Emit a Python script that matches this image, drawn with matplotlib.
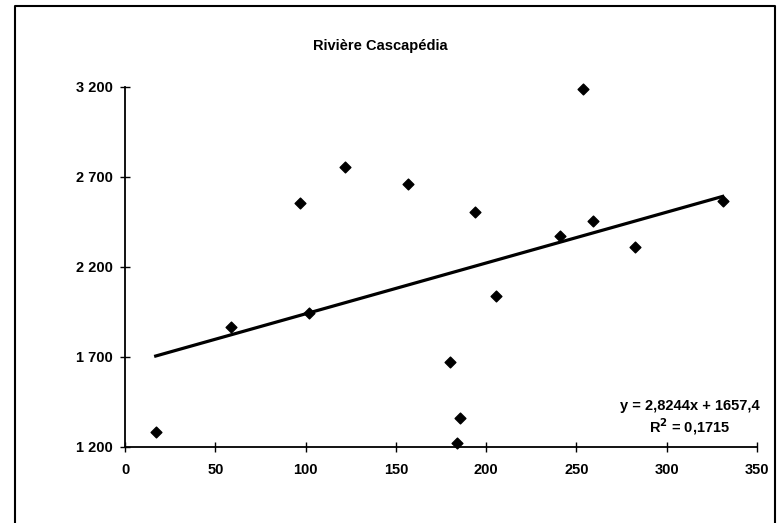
import matplotlib.pyplot as plt
import numpy as np

# points
x_vals = [17, 58.5, 96.7, 102, 122, 156.5, 194, 205.4, 241, 253.6, 259, 282.4, 331, 180, 185.5, 183.6]
y_vals = [1285, 1868, 2557, 1946, 2756, 2661, 2507, 2041, 2372, 3189, 2454, 2313, 2565, 1670, 1363, 1220]

# trend line as printed on the chart
slope = 2.8244
intercept = 1657.4
r2 = 0.1715

x_ticks = [0, 50, 100, 150, 200, 250, 300, 350]
y_ticks = [1200, 1700, 2200, 2700, 3200]

plt.rcParams['font.family'] = ['Liberation Sans', 'DejaVu Sans']

fig = plt.figure(figsize=(7.8, 5.23), dpi=100)
ax = fig.add_axes([125/780, 1-447/523, 632/780, 360/523])

ax.scatter(x_vals, y_vals, marker='D', s=30, color='black', zorder=3, clip_on=False)
xl = np.array([min(x_vals), max(x_vals)])
ax.plot(xl, slope*xl + intercept, color='black', lw=2.3, zorder=2)

ax.set_xlim(0, 350)
ax.set_ylim(1200, 3200)
ax.set_xticks(x_ticks)
ax.set_yticks(y_ticks)
ax.set_xticklabels([str(t) for t in x_ticks], fontsize=10.5, fontweight='bold')
ax.set_yticklabels([f"{t:,}".replace(",", " ") for t in y_ticks], fontsize=10.5, fontweight='bold')
ax.tick_params(direction='inout', length=7, width=1, pad=5)
ax.tick_params(axis='x', pad=8)
ax.spines['top'].set_visible(False)
ax.spines['right'].set_visible(False)
ax.spines['left'].set_linewidth(1.3)
ax.spines['bottom'].set_linewidth(1.3)

fig.text(380/780, 1-46/523, "Rivière Cascapédia", ha='center', va='center',
         fontsize=10.5, fontweight='bold')

eq = "y = " + f"{slope:.4f}".replace(".", ",") + "x + " + f"{intercept:.1f}".replace(".", ",")
fig.text(690/780, 1-406/523, eq, ha='center', va='center', fontsize=10.5, fontweight='bold')
fig.text(690/780, 1-427/523, "R$^\\mathbf{2}$ = " + f"{r2:.4f}".replace(".", ","), ha='center', va='center',
         fontsize=10.5, fontweight='bold')

# outer frame (bottom edge cut off in the scan)
fx = [15/780, 15/780, 775/780, 775/780]
fy = [0, 1-6/523, 1-6/523, 0]
fig.add_artist(plt.Line2D(fx, fy, transform=fig.transFigure, color='black', lw=1.5))

fig.savefig("out.png", dpi=100)
